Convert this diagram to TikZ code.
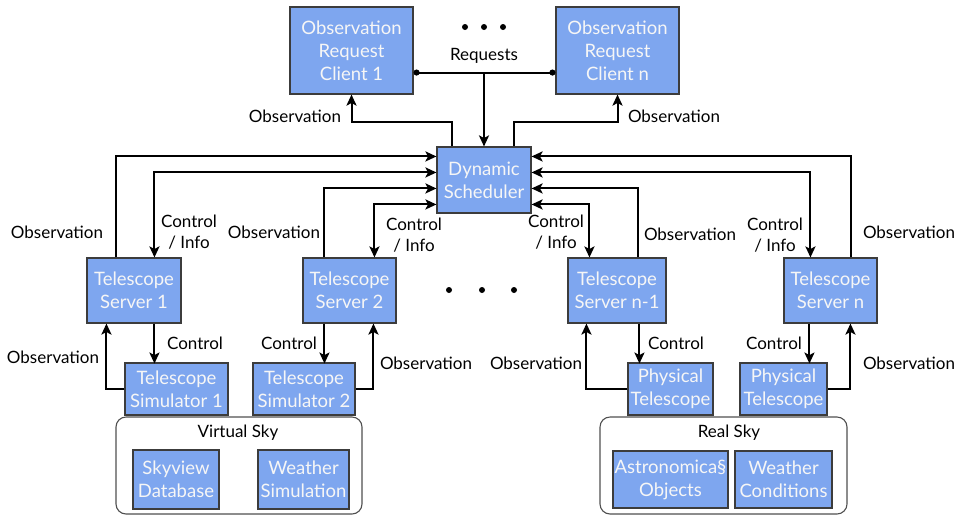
\documentclass[tikz,border=0pt]{standalone}
\usepackage{fontspec}
\setmainfont{Lato}
\usetikzlibrary{arrows.meta,calc}
\definecolor{boxfill}{HTML}{7EA6EF}
\definecolor{boxedge}{HTML}{3C3C3C}
\definecolor{boxtext}{HTML}{F6F6F6}
\definecolor{skyedge}{HTML}{505050}
\begin{document}
\begin{tikzpicture}[x=1pt,y=-1pt,
  unit/.style={draw=boxedge,line width=1.1pt,fill=boxfill,text=boxtext,align=center,
    inner sep=0pt,font=\fontsize{18.5}{23}\selectfont},
  sky/.style={draw=skyedge,line width=1.1pt,fill=white,rounded corners=10pt},
  lbl/.style={align=center,inner sep=0pt,font=\fontsize{17}{21}\selectfont},
  link/.style={line width=2pt,-{Stealth[length=11pt,width=10pt,inset=2.5pt]}},
  twoway/.style={line width=2pt,{Stealth[length=11pt,width=10pt,inset=2.5pt]}-{Stealth[length=11pt,width=10pt,inset=2.5pt]}},
  dotmark/.style={fill=black,circle,inner sep=0pt,minimum size=6pt}]
\useasboundingbox (0,0) rectangle (957,515);

% request clients and scheduler
\node[unit,minimum width=123pt,minimum height=87pt] (c1) at (351.5,50.5) {Observation\\Request\\Client 1};
\node[unit,minimum width=123pt,minimum height=87pt] (cn) at (617.5,50.5) {Observation\\Request\\Client n};
\node[unit,minimum width=94pt,minimum height=66pt] (sch) at (484,180) {Dynamic\\Scheduler};

% telescope servers
\node[unit,minimum width=94pt,minimum height=65pt] (ts1) at (134,290.5) {Telescope\\Server 1};
\node[unit,minimum width=93pt,minimum height=65pt] (ts2) at (349.5,290.5) {Telescope\\Server 2};
\node[unit,minimum width=98pt,minimum height=65pt] (tsm) at (617,290.5) {Telescope\\Server n-1};
\node[unit,minimum width=93pt,minimum height=65pt] (tsn) at (830.5,290.5) {Telescope\\Server n};

% sky containers
\node[sky,minimum width=246pt,minimum height=97pt] (vsky) at (239,465.5) {};
\node[sky,minimum width=247pt,minimum height=97pt] (rsky) at (723.5,465.5) {};
\node[lbl] (vskyl) at (238,433) {Virtual Sky};
\node[lbl] (rskyl) at (729,433) {Real Sky};

% telescopes
\node[unit,minimum width=103pt,minimum height=52pt] (sim1) at (176.5,389) {Telescope\\Simulator 1};
\node[unit,minimum width=102pt,minimum height=52pt] (sim2) at (304,389) {Telescope\\Simulator 2};
\node[unit,minimum width=85pt,minimum height=52pt] (pt1) at (670.5,389) {Physical\\Telescope};
\node[unit,minimum width=87pt,minimum height=52pt] (pt2) at (783.5,389) {Physical\\Telescope};

% sky contents
\node[unit,minimum width=86pt,minimum height=59pt] (sv) at (176,479.5) {Skyview\\Database};
\node[unit,minimum width=91pt,minimum height=59pt] (ws) at (303.5,479.5) {Weather\\Simulation};
\node[unit,minimum width=115pt,minimum height=57pt] (ao) at (670.5,479.5) {Astronomica§\\Objects};
\node[unit,minimum width=97pt,minimum height=57pt] (wc) at (783.5,479.5) {Weather\\Conditions};

% ellipses
\foreach \i/\x/\y in {a/465/27,b/484/27,c/503/27,d/449/290,e/482/290,f/514/290}
  \node[dotmark] (dot\i) at (\x,\y) {};

% requests from clients
\coordinate (rq) at ([yshift=22pt]c1.south east);
\draw[line width=2pt,{Circle[length=6pt]}-{Circle[length=6pt]}] (rq) -- (rq -| cn.west);
\draw[link] (rq -| sch.north) -- (sch.north);
\node[lbl] (rql) at (484,56) {Requests};

% observations back to clients
\draw[link] ([xshift=16pt]sch.north west) -- ++(0,-24) -| (c1.south);
\draw[link] ([xshift=-18pt]sch.north east) -- ++(0,-24) -| (cn.south);
\node[lbl] (o1) at (295,116) {Observation};
\node[lbl] (o2) at (674,116) {Observation};

% servers to scheduler
\draw[link] ([xshift=30pt]ts1.north west) |- ([yshift=-10pt]sch.north west);
\draw[twoway] ([xshift=68pt]ts1.north west) |- ([yshift=-26pt]sch.north west);
\draw[link] ([xshift=22pt]ts2.north west) |- ([yshift=-42pt]sch.north west);
\draw[twoway] ([xshift=72pt]ts2.north west) |- ([yshift=-58pt]sch.north west);
\draw[link] ([xshift=-27pt]tsn.north east) |- ([yshift=-10pt]sch.north east);
\draw[twoway] ([xshift=27pt]tsn.north west) |- ([yshift=-26pt]sch.north east);
\draw[link] ([xshift=71pt]tsm.north west) |- ([yshift=-42pt]sch.north east);
\draw[twoway] ([xshift=22pt]tsm.north west) |- ([yshift=-58pt]sch.north east);

\node[lbl] (o3) at (57,232) {Observation};
\node[lbl] (k1) at (189,232) {Control\\/ Info};
\node[lbl] (o4) at (274,232) {Observation};
\node[lbl] (k2) at (414,235) {Control\\/ Info};
\node[lbl] (k3) at (556,232) {Control\\/ Info};
\node[lbl] (o5) at (690,234) {Observation};
\node[lbl] (k4) at (775,235) {Control\\/ Info};
\node[lbl] (o6) at (909,232) {Observation};

% servers to telescopes
\draw[link] ([xshift=68pt]ts1.south west) -- ++(0,40);
\draw[link] (sim1.west) -| ([xshift=20pt]ts1.south west);
\draw[link] ([xshift=22pt]ts2.south west) -- ++(0,40);
\draw[link] (sim2.east) -| ([xshift=71pt]ts2.south west);
\draw[link] ([xshift=72pt]tsm.south west) -- ++(0,40);
\draw[link] (pt1.west) -| ([xshift=19pt]tsm.south west);
\draw[link] ([xshift=26pt]tsn.south west) -- ++(0,40);
\draw[link] (pt2.east) -| ([xshift=67pt]tsn.south west);

\node[lbl] (o7) at (53,357) {Observation};
\node[lbl] (k5) at (195,343) {Control};
\node[lbl] (k6) at (289,343) {Control};
\node[lbl] (o8) at (426,363) {Observation};
\node[lbl] (o9) at (536,363) {Observation};
\node[lbl] (k7) at (676,343) {Control};
\node[lbl] (k8) at (774,343) {Control};
\node[lbl] (o10) at (909,363) {Observation};
\end{tikzpicture}
\end{document}
